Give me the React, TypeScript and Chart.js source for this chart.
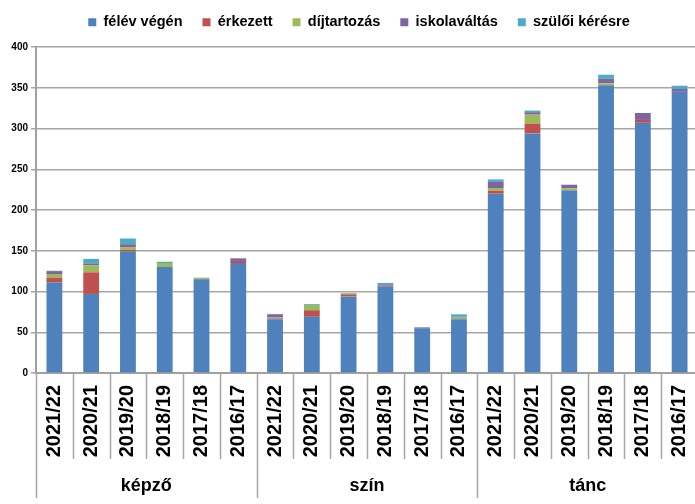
import React, { useEffect, useRef } from "react";
import { Chart, registerables } from "chart.js";

Chart.register(...registerables);

const groups = ["képző", "szín", "tánc"];
const years = ["2021/22", "2020/21", "2019/20", "2018/19", "2017/18", "2016/17"];
const labels = groups.flatMap(() => years);

const felevVegen = [111, 97, 149, 130, 115, 135, 66, 69, 94, 106, 55, 66, 220, 294, 224, 353, 307, 345];
const erkezett = [6, 26.5, 2, 0, 0.5, 2.5, 1, 8, 2.5, 1.5, 0, 0, 3.5, 12, 0.5, 0, 3.5, 0];
const dijtartozas = [4.5, 8.5, 3.5, 5, 1.5, 0, 1, 6.5, 1.5, 0, 0, 2, 3.5, 11, 2, 2.5, 0, 0];
const iskolavaltas = [3.5, 2.5, 3.5, 0, 0, 3, 4, 0, 0, 0.5, 1, 1, 7.5, 3, 4.5, 5.5, 8.5, 3.5];
const szuloiKeresre = [0.5, 5.5, 7, 1.5, 0, 0.5, 0.5, 1, 0, 2.5, 0, 3, 3, 2, 0, 5, 0, 4];

const seriesNames = ["félév végén", "érkezett", "díjtartozás", "iskolaváltás", "szülői kérésre"];
const seriesColors = ["#4F81BD", "#C0504D", "#9BBB59", "#8064A2", "#4BACC6"];
const seriesValues = [felevVegen, erkezett, dijtartozas, iskolavaltas, szuloiKeresre];

const FONT = "'Liberation Sans', Arial, sans-serif";

const legendTweak = {
  id: "legendTweak",
  beforeUpdate(chart: any) {
    const lg = chart.legend;
    if (!lg || lg._tweaked) return;
    lg._tweaked = true;
    const fit = lg.fit;
    lg.fit = function () {
      fit.call(this);
      this.height = 47;
    };
    const draw = lg.draw;
    lg.draw = function () {
      const c = this.ctx;
      c.save();
      c.translate(10, -5);
      draw.call(this);
      c.restore();
    };
  },
};

const groupAxis = {
  id: "groupAxis",
  afterDraw(chart: any) {
    const ctx = chart.ctx;
    const xs = chart.scales.x;
    const area = chart.chartArea;
    const n = labels.length;
    const step = xs.getPixelForValue(1) - xs.getPixelForValue(0);
    ctx.save();
    ctx.strokeStyle = "#a6a6a6";
    ctx.lineWidth = 1.5;
    for (let i = 0; i <= n; i++) {
      const x = Math.round(xs.getPixelForValue(i) - step / 2) + 0.5;
      const isGroup = i % years.length === 0;
      ctx.beginPath();
      ctx.moveTo(x, area.bottom);
      ctx.lineTo(x, area.bottom + (isGroup ? 125 : 86));
      ctx.stroke();
    }
    ctx.fillStyle = "#000";
    ctx.font = `bold 18px ${FONT}`;
    ctx.textAlign = "center";
    ctx.textBaseline = "middle";
    groups.forEach((g, gi) => {
      const a = xs.getPixelForValue(gi * years.length) - step / 2;
      const b = xs.getPixelForValue((gi + 1) * years.length - 1) + step / 2;
      ctx.fillText(g, (a + b) / 2, area.bottom + 113);
    });
    ctx.restore();
  },
};

export default function App() {
  const ref = useRef<HTMLCanvasElement>(null);
  useEffect(() => {
    if (!ref.current) return;
    const chart = new Chart(ref.current, {
      type: "bar",
      data: {
        labels,
        datasets: seriesNames.map((name, i) => ({
          label: name,
          data: seriesValues[i],
          backgroundColor: seriesColors[i],
          borderWidth: 0,
          barPercentage: 0.43,
          categoryPercentage: 1,
        })),
      },
      options: {
        responsive: false,
        animation: false,
        devicePixelRatio: 1,
        layout: { padding: 0 },
        plugins: {
          legend: {
            position: "top",
            labels: {
              font: { family: FONT, weight: "bold", size: 14.5 },
              color: "#000",
              boxWidth: 8,
              boxHeight: 8,
              padding: 20,
            },
          },
          tooltip: { enabled: false },
        },
        scales: {
          x: {
            stacked: true,
            grid: { display: false, drawTicks: false },
            border: { color: "#a0a0a0", width: 2 },
            ticks: {
              autoSkip: false,
              minRotation: 90,
              maxRotation: 90,
              padding: 12,
              color: "#000",
              font: { family: FONT, weight: "bold", size: 20 },
            },
            afterFit(scale: any) {
              scale.height = 131;
              scale.paddingLeft = 0;
              scale.paddingRight = 0;
            },
          },
          y: {
            stacked: true,
            min: 0,
            max: 400,
            grid: { color: "#a6a6a6", lineWidth: 1.5, tickLength: 5 },
            border: { color: "#a0a0a0", width: 2 },
            ticks: {
              stepSize: 50,
              padding: 3,
              color: "#000",
              font: { family: FONT, weight: "bold", size: 10 },
            },
            afterFit(scale: any) {
              scale.width = 36;
              scale.paddingTop = 0;
              scale.paddingBottom = 0;
            },
          },
        },
      },
      plugins: [legendTweak, groupAxis],
    });
    return () => chart.destroy();
  }, []);
  return (
    <div style={{ position: "fixed", left: 0, top: 0, width: 698, height: 504, background: "#fff" }}>
      <canvas ref={ref} width={698} height={504} />
    </div>
  );
}
